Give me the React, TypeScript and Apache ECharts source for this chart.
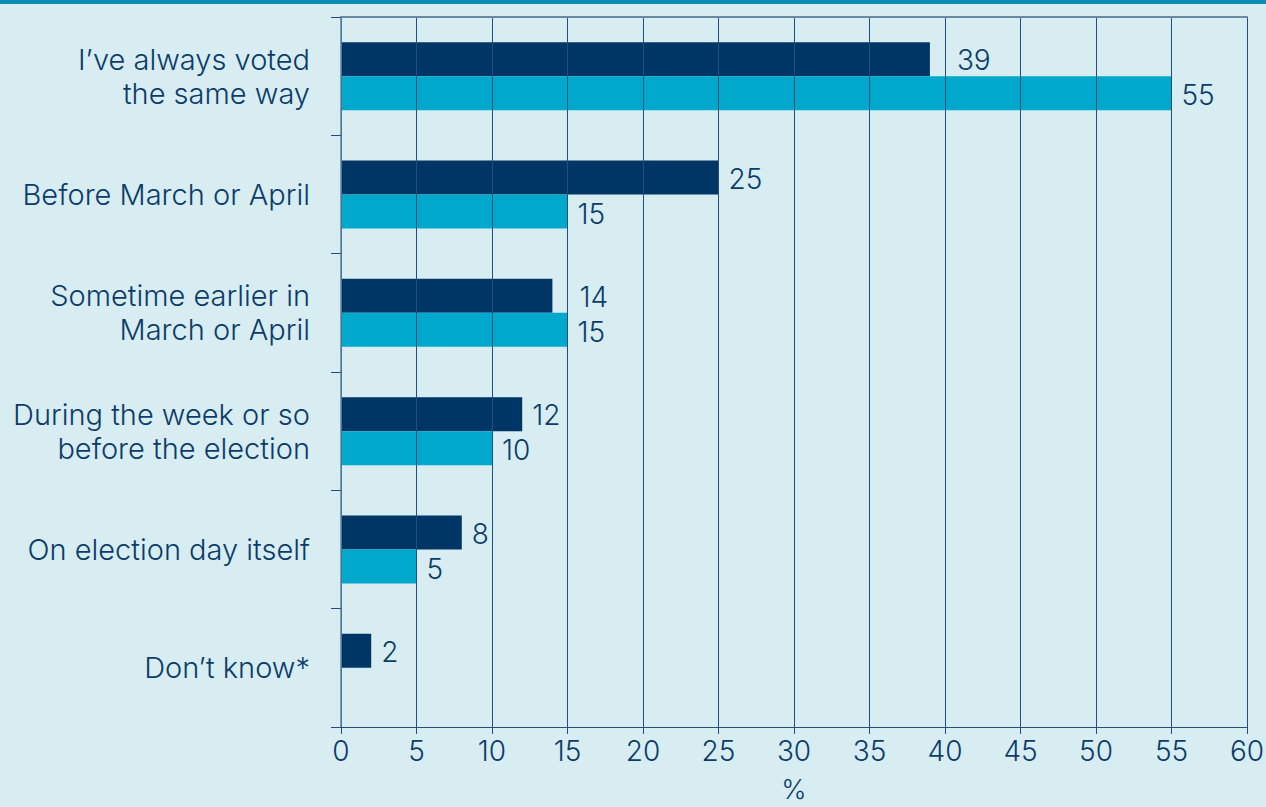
import React, { useEffect, useRef } from "react";
import * as echarts from "echarts";

const categories = [
  "I’ve always voted\nthe same way",
  "Before March or April",
  "Sometime earlier in\nMarch or April",
  "During the week or so\nbefore the election",
  "On election day itself",
  "Don’t know*",
];
const seriesDark = [39, 25, 14, 12, 8, 2];
const seriesLight: (number | null)[] = [55, 15, 15, 10, 5, null];
const xTicks = { min: 0, max: 60, interval: 5 };

const TEXT = "#0b3c6a";
const GRID = "#244f7a";

export default function App() {
  const ref = useRef<HTMLDivElement>(null);
  useEffect(() => {
    const chart = echarts.init(ref.current!, null, { renderer: "svg" });
    const font = "Inter";
    const fw = 300;
    const fs = 28;
    // wider label gap where the label would sit on a grid line
    const farLabel = [true, false, true, false, false, false];
    chart.setOption({
      animation: false,
      backgroundColor: "#d8edf2",
      textStyle: { fontFamily: font },
      graphic: [
        { type: "rect", shape: { x: 0, y: 0, width: 1266, height: 4 }, style: { fill: "#0a8cb3" } },
      ],
      grid: { left: 341, right: 19, top: 17, bottom: 80, outerBoundsMode: "none", containLabel: false },
      xAxis: [
        {
          type: "value",
          min: xTicks.min,
          max: xTicks.max,
          interval: xTicks.interval,
          z: 3,
          name: "%",
          nameLocation: "middle",
          nameGap: 49,
          nameTextStyle: { color: TEXT, fontSize: 27, fontWeight: fw, fontFamily: font, lineHeight: 27 },
          axisLine: { show: true, lineStyle: { color: GRID, width: 1 } },
          axisTick: { show: true, length: 7, lineStyle: { color: GRID } },
          axisLabel: { color: TEXT, fontSize: fs, fontWeight: fw, fontFamily: font, margin: 10 },
          splitLine: { show: true, lineStyle: { color: GRID, width: 1 } },
        },
        {
          type: "value",
          position: "top",
          min: xTicks.min,
          max: xTicks.max,
          interval: xTicks.interval,
          z: 3,
          axisLine: { show: true, lineStyle: { color: "#6a8aa6", width: 2 } },
          axisTick: { show: false },
          axisLabel: { show: false },
          splitLine: { show: false },
        },
      ],
      yAxis: {
        type: "category",
        inverse: true,
        data: categories,
        z: 3,
        axisLine: { show: true, lineStyle: { color: "#5e82a2", width: 1.5 } },
        axisTick: { show: true, length: 10, alignWithLabel: false, lineStyle: { color: GRID } },
        axisLabel: {
          color: TEXT,
          fontSize: 29,
          fontWeight: fw,
          fontFamily: font,
          margin: 31,
          align: "right",
          lineHeight: 34,
          padding: [3, 0, 0, 0],
        },
        splitLine: { show: false },
      },
      series: [
        {
          type: "bar",
          data: seriesDark.map((v, i) => ({
            value: v,
            label: { distance: farLabel[i] ? 27 : 10 },
          })),
          barWidth: 34,
          barGap: "0%",
          itemStyle: { color: "#003665" },
          label: {
            show: true,
            position: "right",
            color: TEXT,
            fontSize: fs,
            fontWeight: fw,
            fontFamily: font,
            offset: [0, 1],
          },
        },
        {
          type: "bar",
          data: seriesLight,
          barWidth: 34,
          barGap: "0%",
          itemStyle: { color: "#00a9cc" },
          label: {
            show: true,
            position: "right",
            distance: 10,
            color: TEXT,
            fontSize: fs,
            fontWeight: fw,
            fontFamily: font,
            offset: [0, 2],
          },
        },
      ],
    });
    return () => chart.dispose();
  }, []);
  return (
    <div
      ref={ref}
      style={{ position: "fixed", left: 0, top: 0, width: 1266, height: 807 }}
    />
  );
}
